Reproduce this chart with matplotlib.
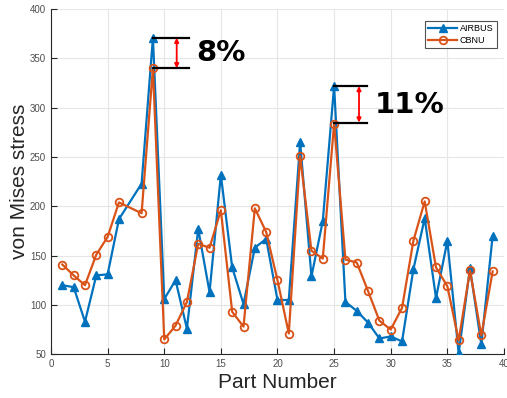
import matplotlib
matplotlib.use("Agg")
import matplotlib.pyplot as plt

plt.rcParams["font.family"] = ["Liberation Sans", "DejaVu Sans"]

parts = [1, 2, 3, 4, 5, 6, 8, 9, 10, 11, 12, 13, 14, 15, 16, 17, 18, 19, 20,
         21, 22, 23, 24, 25, 26, 27, 28, 29, 30, 31, 32, 33, 34, 35, 36, 37, 38, 39]
airbus = [120, 118, 83, 130, 131, 187, 223, 371, 106, 125, 76, 177, 113, 232, 138, 101,
          158, 167, 105, 105, 265, 129, 185, 322, 103, 94, 82, 66, 68, 63, 136, 188,
          107, 165, 51, 137, 60, 170]
cbnu = [141, 130, 120, 151, 169, 204, 193, 340, 65, 79, 103, 162, 158, 196, 93, 78,
        198, 174, 125, 71, 251, 155, 147, 284, 146, 143, 114, 84, 75, 97, 165, 205,
        138, 119, 64, 135, 69, 134]
xticks = [0, 5, 10, 15, 20, 25, 30, 35, 40]
yticks = [50, 100, 150, 200, 250, 300, 350, 400]

blue = "#0072BD"
orange = "#D95319"

fig = plt.figure(figsize=(5.07, 3.98), dpi=100)
ax = fig.add_axes([0.1006, 0.110, 0.8934, 0.867])

ax.plot(parts, airbus, color=blue, lw=1.6, marker="^", ms=6, mfc=blue, mec=blue, label="AIRBUS", zorder=3)
ax.plot(parts, cbnu, color=orange, lw=1.6, marker="o", ms=5.5, mfc="none", mec=orange, mew=1.3, label="CBNU", zorder=4)

ax.set_xlim(0, 40)
ax.set_ylim(50, 400)
ax.set_xticks(xticks)
ax.set_yticks(yticks)
ax.grid(True, color="#e6e6e6", lw=0.8)
ax.set_axisbelow(True)
for s in ["top", "right"]:
    ax.spines[s].set_visible(False)
for s in ["left", "bottom"]:
    ax.spines[s].set_color("#262626")
    ax.spines[s].set_linewidth(0.8)
ax.tick_params(direction="in", length=4, labelsize=7, labelcolor="#4d4d4d", color="#262626")
ax.set_xlabel("Part Number", fontsize=15, color="#262626", labelpad=3)
ax.set_ylabel("von Mises stress", fontsize=15, color="#262626", labelpad=1)

leg = ax.legend(loc="upper right", fontsize=6.5, frameon=True, fancybox=False,
                edgecolor="#262626", handlelength=3.2, borderpad=0.4,
                labelspacing=0.3, handletextpad=0.3, bbox_to_anchor=(0.995, 0.98))
leg.get_frame().set_linewidth(0.8)

# annotation brackets
def bracket(x0, x1, xa, ytop, ybot):
    ax.plot([x0, x1], [ytop, ytop], color="black", lw=1.6, zorder=5)
    ax.plot([x0, x1], [ybot, ybot], color="black", lw=1.6, zorder=5)
    ax.annotate("", xy=(xa, ytop), xytext=(xa, ybot),
                arrowprops=dict(arrowstyle="<|-|>", color="red", lw=1.3,
                                mutation_scale=6, shrinkA=0, shrinkB=0), zorder=5)

bracket(9.0, 12.2, 11.1, 371, 340)
ax.text(12.8, 355.5, "8%", fontsize=21, fontweight="bold", family=["DejaVu Sans"],
        va="center", ha="left", color="black")
bracket(25.0, 27.9, 27.2, 322, 285)
ax.text(28.6, 303, "11%", fontsize=21, fontweight="bold", family=["DejaVu Sans"],
        va="center", ha="left", color="black")

fig.savefig("out.png", dpi=100)
